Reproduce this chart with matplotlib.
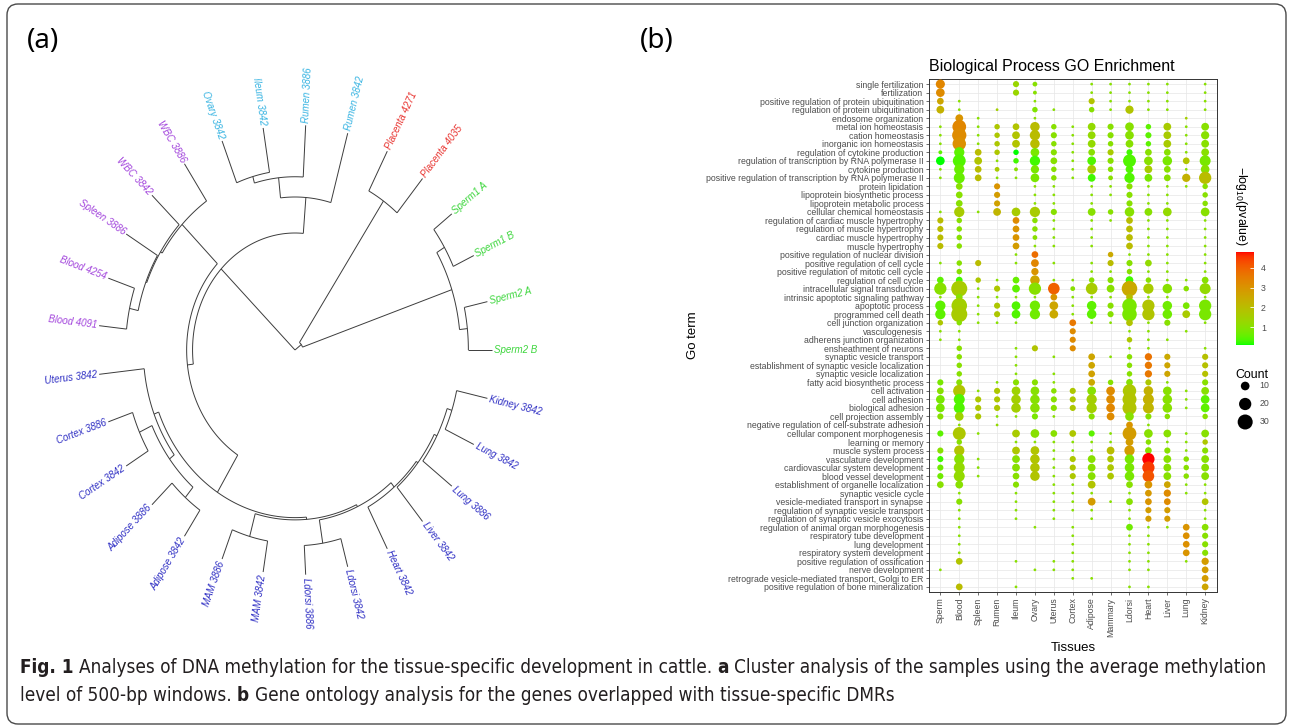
import numpy as np
import matplotlib
matplotlib.use("Agg")
import matplotlib.pyplot as plt
from matplotlib.colors import ListedColormap, Normalize
from matplotlib.collections import LineCollection
from matplotlib.patches import FancyBboxPatch
from matplotlib.transforms import Affine2D
import matplotlib.cm as cm

plt.rcParams['font.family'] = ['Liberation Sans', 'DejaVu Sans']

W, H = 1292, 728

# ---------------- panel (a): sample clustering ----------------
leaves = ["Sperm2 B", "Sperm2 A", "Sperm1 B", "Sperm1 A",
          "Placenta 4035", "Placenta 4271",
          "Rumen 3842", "Rumen 3886", "Ileum 3842", "Ovary 3842",
          "WBC 3886", "WBC 3842", "Spleen 3886", "Blood 4254", "Blood 4091",
          "Uterus 3842", "Cortex 3886", "Cortex 3842", "Adipose 3886", "Adipose 3842",
          "MAM 3886", "MAM 3842", "Ldorsi 3886", "Ldorsi 3842", "Heart 3842",
          "Liver 3842", "Lung 3886", "Lung 3842", "Kidney 3842"]
leaf_group = [0] * 4 + [1] * 2 + [2] * 4 + [3] * 5 + [4] * 14
group_colors = ["#3dd63d", "#e8322e", "#38b4e2", "#a244dc", "#3030c4"]

# (distance of node from root, children)
tree = (0.0, [
    (0.04, [
        (0.84, [(0.88, ["Sperm2 B", "Sperm2 A"]), (0.885, ["Sperm1 B", "Sperm1 A"])]),
        (0.80, ["Placenta 4035", "Placenta 4271"]),
    ]),
    (0.52, [
        (0.68, ["Rumen 3842", (0.77, ["Rumen 3886", (0.80, ["Ileum 3842", "Ovary 3842"])])]),
        (0.55, [
            (0.80, ["WBC 3886", (0.81, ["WBC 3842", (0.815, ["Spleen 3886",
                                                           (0.86, ["Blood 4254", "Blood 4091"])])])]),
            (0.745, [
                (0.77, ["Uterus 3842", (0.80, [(0.87, ["Cortex 3886", "Cortex 3842"]),
                                               (0.86, ["Adipose 3886", "Adipose 3842"])])]),
                (0.755, [(0.86, ["MAM 3886", "MAM 3842"]),
                         (0.765, [(0.87, ["Ldorsi 3886", "Ldorsi 3842"]),
                                  (0.79, ["Heart 3842",
                                          (0.80, ["Liver 3842",
                                                  (0.815, ["Lung 3886",
                                                           (0.84, ["Lung 3842", "Kidney 3842"])])])])])]),
            ]),
        ]),
    ]),
])

# ---------------- panel (b): GO enrichment ----------------
tissues = ["Sperm", "Blood", "Spleen", "Rumen", "Ileum", "Ovary", "Uterus", "Cortex",
           "Adipose", "Mammary", "Ldorsi", "Heart", "Liver", "Lung", "Kidney"]
go_terms = [
    "single fertilization", "fertilization",
    "positive regulation of protein ubiquitination", "regulation of protein ubiquitination",
    "endosome organization", "metal ion homeostasis", "cation homeostasis",
    "inorganic ion homeostasis", "regulation of cytokine production",
    "regulation of transcription by RNA polymerase II", "cytokine production",
    "positive regulation of transcription by RNA polymerase II", "protein lipidation",
    "lipoprotein biosynthetic process", "lipoprotein metabolic process",
    "cellular chemical homeostasis", "regulation of cardiac muscle hypertrophy",
    "regulation of muscle hypertrophy", "cardiac muscle hypertrophy", "muscle hypertrophy",
    "positive regulation of nuclear division", "positive regulation of cell cycle",
    "positive regulation of mitotic cell cycle", "regulation of cell cycle",
    "intracellular signal transduction", "intrinsic apoptotic signaling pathway",
    "apoptotic process", "programmed cell death", "cell junction organization",
    "vasculogenesis", "adherens junction organization", "ensheathment of neurons",
    "synaptic vesicle transport", "establishment of synaptic vesicle localization",
    "synaptic vesicle localization", "fatty acid biosynthetic process", "cell activation",
    "cell adhesion", "biological adhesion", "cell projection assembly",
    "negative regulation of cell-substrate adhesion", "cellular component morphogenesis",
    "learning or memory", "muscle system process", "vasculature development",
    "cardiovascular system development", "blood vessel development",
    "establishment of organelle localization", "synaptic vesicle cycle",
    "vesicle-mediated transport in synapse", "regulation of synaptic vesicle transport",
    "regulation of synaptic vesicle exocytosis", "regulation of animal organ morphogenesis",
    "respiratory tube development", "lung development", "respiratory system development",
    "positive regulation of ossification", "nerve development",
    "retrograde vesicle-mediated transport, Golgi to ER",
    "positive regulation of bone mineralization"]

# gene counts, columns follow `tissues` (0 = term not enriched)
counts_tbl = """
11  0  0  0  5  3  0  0  1  1  1  1  1  0  1
10  0  0  0  5  2  0  0  1  1  1  1  1  0  1
 6  1  0  0  0  1  0  0  5  1  1  1  1  0  1
 8  1  0  1  0  4  1  0  4  1  9  1  1  0  1
 0  8  1  0  0  1  0  0  0  0  0  0  0  1  0
 1 25  1  4  6 12  4  1  8  5 10  4  8  1  8
 1 27  1  4  8 14  5  1  8  5 10  5  8  1  9
 1 24  1  4  8 12  4  1  8  4  8  4  8  1  8
 2 14  6  4  4 10  5  1  6  5  5  6  6  1  8
10 22  8  1  4 14  6  1 10  5 22 10 12  6 16
 1 14  6  3  2  9  4  1 10  4  8  8  6  1 10
 1 16  6  1  1 10  4  1  8  3 14  8  6  9 20
 0  6  0  5  0  1  1  0  1  1  5  1  1  1  4
 0  6  0  5  0  1  1  0  1  1  5  1  1  0  4
 0  6  0  5  0  1  1  0  1  0  5  1  1  0  4
 1 14  1  8 10 14  5  0  8  4 12  8 10  0 10
 5  4  0  0  6  4  1  0  1  1  6  1  1  0  1
 5  4  0  0  6  4  1  0  1  0  6  1  1  0  1
 5  4  0  0  6  3  1  0  1  0  6  1  1  0  1
 5  4  0  0  6  1  1  0  1  0  6  1  1  0  1
 0  0  0  0  1  6  0  0  0  4  1  1  1  0  1
 1  4  5  0  1  8  1  0  1  5  5  6  1  0  1
 0  4  0  0  0  7  0  0  1  1  4  1  1  0  1
 6  6  4  1  6 12  1  1  4  5  8  4  1  1  6
20 34  1  5  8 20 18  3 18  8 32 14 12  4 16
 1  6  1  1  1  1  6  1  1  1  6  1  1  0  1
14 32  1  5 10 14 10  1 12  5 28 20 12  6 20
14 34  1  5 10 14 10  1 12  5 28 20 12  8 20
 4  4  1  1  1  0  0  6  1  1  6  1  5  0  1
 1  1  0  0  0  0  0  5  0  0  1  1  0  1  0
 1  1  0  0  0  0  0  5  0  0  4  1  1  0  0
 0  4  0  0  1  5  0  5  0  0  1  1  0  0  1
 0  4  0  0  1  0  1  0  6  1  4  7  5  0  5
 0  4  0  0  1  0  0  0  6  0  4  7  5  0  5
 0  4  0  0  1  0  1  0  6  0  4  7  5  0  5
 5  5  0  1  5  5  1  0  6  4  6  5  1  0  5
 6 20  1  5 10 10  4  5 10 10 24 12 10  1  8
10 16  5  5 12 12  5  5 14 10 26 16 12  1 10
10 16  5  5 12 12  5  5 14 10 26 16 12  1 10
 5 10  5  1  1  5  1  0  5  8 10  5  4  0  4
 0  1  0  1  0  0  0  0  0  0  6  1  0  0  0
 5 22  1  0  8 10  6  6  5  1 25 10  8  1  8
 0  4  0  0  1  1  1  1  1  1  8  4  1  1  4
 5 14  0  0  8 10  1  1  1  8 14  6  5  1  5
 5 14  1  0  8 12  1  5  8  6 12 20  8  4  8
 5 16  1  0  8 12  1  5  8  6 12 20  8  4  8
 5 16  1  0  6 12  1  5  8  6 12 18  8  4  8
 6  8  0  0  5  0  1  1  8  0  6  8  6  1  1
 0  1  0  0  1  0  1  1  1  0  1  6  7  1  1
 0  5  0  0  1  0  1  1  8  1  6  6  6  0  6
 0  1  0  0  1  0  1  1  1  0  1  5  5  0  1
 0  1  0  0  1  0  1  0  1  0  1  5  5  0  1
 0  1  0  0  0  1  0  1  0  0  6  1  1  6  6
 0  1  0  0  0  0  0  1  0  0  1  1  0  6  5
 0  1  0  0  0  0  0  1  0  0  1  1  0  6  5
 0  1  0  0  0  0  0  1  0  0  1  1  0  6  5
 0  6  0  0  1  0  1  1  0  0  1  1  0  1  7
 1  0  0  0  0  1  1  1  0  0  1  1  0  0  6
 0  0  0  0  0  0  0  1  1  0  0  0  0  0  6
 0  6  0  0  1  0  0  0  0  0  1  1  0  0  6
"""

# -log10(pvalue), same layout
neglogp_tbl = """
3.3 0   0   0   1.3 1.0 0   0   1.0 1.0 1.0 1.0 1.0 0   1.0
3.2 0   0   0   1.3 1.0 0   0   1.0 1.0 1.0 1.0 1.0 0   1.0
2.6 1.0 0   0   0   1.0 0   0   1.8 1.0 1.0 1.0 1.0 0   1.0
2.3 1.0 0   1.5 0   0.9 1.0 0   1.0 1.0 1.8 1.0 1.0 0   1.0
0   3.0 1.0 0   0   1.0 0   0   0   0   0   0   0   1.5 0
1.0 3.3 1.0 1.7 1.8 2.0 1.0 1.0 1.2 1.0 1.0 0.5 1.6 1.0 1.0
1.0 3.2 1.0 1.7 1.8 2.0 1.0 1.0 1.2 1.0 1.0 0.5 1.6 1.0 1.0
1.0 3.1 1.0 1.7 1.8 2.0 1.0 1.0 1.2 1.0 1.0 0.5 1.6 1.0 1.0
0.5 0.5 2.0 1.7 0.1 0.8 1.0 1.0 1.0 1.6 0.3 1.0 1.0 1.0 1.0
0.1 0.4 1.8 1.0 0.3 0.3 1.0 1.0 0.4 1.0 0.4 1.0 0.8 1.8 0.8
1.0 0.6 2.0 1.6 1.0 0.8 1.0 1.0 1.6 1.0 0.4 1.6 1.0 1.0 1.0
1.0 0.6 2.0 1.0 1.0 0.8 1.0 1.0 0.3 1.0 0.4 0.8 1.0 2.3 2.0
0   1.0 0   3.0 0   1.0 1.0 0   1.0 1.0 1.0 1.0 1.0 1.0 1.0
0   1.0 0   2.8 0   1.0 1.0 0   1.0 1.0 1.0 1.0 1.0 0   1.0
0   1.0 0   2.7 0   1.0 1.0 0   1.0 0   1.0 1.0 1.0 0   1.0
1.0 1.6 1.0 2.2 1.6 1.6 1.0 0   1.0 1.0 1.0 1.0 1.2 0   1.0
2.0 1.0 0   0   3.2 1.0 1.0 0   1.0 1.0 2.0 1.0 1.0 0   1.0
2.0 1.0 0   0   3.0 1.0 1.0 0   1.0 0   2.0 1.0 1.0 0   1.0
2.0 1.0 0   0   3.0 1.0 1.0 0   1.0 0   2.0 1.0 1.0 0   1.0
2.0 1.0 0   0   2.8 1.0 1.0 0   1.0 0   2.0 1.0 1.0 0   1.0
0   0   0   0   1.0 3.8 0   0   0   2.5 1.0 1.0 1.0 0   1.0
1.0 1.0 2.0 0   1.0 3.3 1.0 0   1.0 2.0 1.0 1.2 1.0 0   1.0
0   1.0 0   0   0   3.0 0   0   1.0 1.0 1.0 1.0 1.0 0   1.0
0.5 0.3 1.7 1.0 0.6 2.6 1.0 1.0 1.0 1.0 0.3 1.0 1.0 1.0 1.0
1.0 1.6 1.0 1.7 0.5 1.0 4.0 1.0 1.6 1.0 2.5 1.6 1.0 1.0 1.2
1.0 1.0 1.0 1.0 1.0 1.0 3.0 1.0 1.0 1.0 2.0 1.0 1.0 0   1.0
0.5 1.5 1.0 1.7 0.4 0.7 2.6 1.0 0.5 1.0 0.8 1.8 0.7 0.8 0.8
0.5 1.6 1.0 1.7 0.4 0.7 2.5 1.0 0.5 1.0 0.8 1.8 0.7 1.6 0.8
1.7 1.0 1.0 1.0 1.0 0   0   3.6 1.0 1.0 1.8 1.0 1.0 0   1.0
1.0 1.0 0   0   0   0   0   3.2 0   0   1.0 1.0 0   1.0 0
1.0 1.0 0   0   0   0   0   3.2 0   0   1.7 1.0 1.0 0   0
0   1.0 0   0   1.0 1.8 0   3.2 0   0   1.0 1.0 0   0   1.0
0   1.0 0   0   1.0 0   1.0 0   2.6 1.0 1.0 3.7 2.5 0   1.9
0   1.0 0   0   1.0 0   0   0   2.6 0   1.0 3.6 2.6 0   1.9
0   1.0 0   0   1.0 0   1.0 0   2.7 0   1.0 3.6 2.6 0   1.9
0.8 1.0 0   1.0 1.0 1.0 1.0 0   2.5 1.0 1.0 1.7 1.0 0   1.0
1.0 1.8 1.0 1.7 1.4 1.0 1.0 1.7 1.0 3.2 1.7 2.3 1.0 1.0 1.0
0.8 0.4 1.7 1.7 1.5 1.0 1.0 1.7 1.5 3.2 1.8 2.3 1.0 1.0 0.5
0.8 0.4 1.7 1.7 1.5 1.0 1.0 1.7 1.5 3.3 1.8 2.2 1.0 1.0 0.5
1.0 1.4 1.7 1.0 1.0 0.8 1.0 0   1.0 3.2 1.0 1.0 1.0 0   1.0
0   1.0 0   1.2 0   0   0   0   0   0   3.0 1.0 0   0   0
0.5 1.7 1.0 0   1.6 1.0 1.0 1.7 0.5 1.0 2.8 1.0 1.0 1.0 1.0
0   1.0 0   0   1.0 1.0 1.0 1.0 1.0 1.0 2.8 1.0 1.0 1.0 1.7
1.0 1.8 0   0   1.7 1.8 1.0 1.0 1.0 2.0 2.8 1.0 1.0 1.0 1.0
0.3 1.0 1.0 0   1.0 1.8 1.0 1.7 1.0 1.7 0.8 4.8 1.0 1.0 1.0
0.7 1.2 1.0 0   1.0 1.8 1.0 1.7 1.0 1.7 0.8 4.5 1.0 1.0 1.0
0.7 1.2 1.0 0   1.0 1.8 1.0 1.7 1.0 1.7 0.8 4.2 1.0 1.0 1.0
1.0 1.0 0   0   1.0 0   1.0 1.0 1.8 0   1.0 3.0 2.6 1.0 1.0
0   1.0 0   0   1.0 0   1.0 1.0 1.0 0   1.0 2.9 3.2 1.0 1.0
0   1.0 0   0   1.0 0   1.0 1.0 2.8 1.0 1.0 3.0 3.2 0   1.8
0   1.0 0   0   1.0 0   1.0 1.0 1.0 0   1.0 2.8 2.8 0   1.0
0   1.0 0   0   1.0 0   1.0 0   1.0 0   1.0 2.8 2.8 0   1.0
0   1.0 0   0   0   1.0 0   1.0 0   0   0.7 1.0 1.0 3.0 1.0
0   1.0 0   0   0   0   0   1.0 0   0   1.0 1.0 0   3.1 1.0
0   1.0 0   0   0   0   0   1.0 0   0   1.0 1.0 0   3.1 1.0
0   1.0 0   0   0   0   0   1.0 0   0   1.0 1.0 0   3.0 1.0
0   1.8 0   0   1.0 0   1.0 1.0 0   0   1.0 1.0 0   1.0 2.8
1.0 0   0   0   0   1.0 1.0 1.0 0   0   1.0 1.0 0   0   2.8
0   0   0   0   0   0   0   1.0 1.0 0   0   0   0   0   2.8
0   2.0 0   0   1.0 0   0   0   0   0   1.0 1.0 0   0   2.6
"""

counts = np.array([r.split() for r in counts_tbl.strip().splitlines()], dtype=float)
neglogp = np.array([r.split() for r in neglogp_tbl.strip().splitlines()], dtype=float)

size_keys = [10, 20, 30]

caption_1 = [("Fig. 1", "bold"),
             ("Analyses of DNA methylation for the tissue-specific development in cattle.", "normal"),
             ("a", "bold"),
             ("Cluster analysis of the samples using the average methylation", "normal")]
caption_2 = [("level of 500-bp windows.", "normal"),
             ("b", "bold"),
             ("Gene ontology analysis for the genes overlapped with tissue-specific DMRs", "normal")]


# green -> red gradient interpolated in CIELAB (like ggplot's scale_colour_gradient)
M = np.array([[0.4124, 0.3576, 0.1805], [0.2126, 0.7152, 0.0722], [0.0193, 0.1192, 0.9505]])
WHITE = np.array([0.95047, 1.0, 1.08883])

def to_lab(rgb):
    c = np.asarray(rgb, float)
    lin = np.where(c <= 0.04045, c / 12.92, ((c + 0.055) / 1.055) ** 2.4)
    xyz = M @ lin / WHITE
    f = np.where(xyz > 0.008856, np.cbrt(xyz), 7.787 * xyz + 16 / 116)
    return np.array([116 * f[1] - 16, 500 * (f[0] - f[1]), 200 * (f[1] - f[2])])

def from_lab(lab):
    fy = (lab[0] + 16) / 116
    f = np.array([fy + lab[1] / 500, fy, fy - lab[2] / 200])
    xyz = np.where(f ** 3 > 0.008856, f ** 3, (f - 16 / 116) / 7.787) * WHITE
    lin = np.clip(np.linalg.solve(M, xyz), 0, None)
    c = np.where(lin <= 0.0031308, 12.92 * lin, 1.055 * lin ** (1 / 2.4) - 0.055)
    return np.clip(c, 0, 1)

lo, hi = to_lab([0, 1, 0]), to_lab([1, 0, 0])
cmap = ListedColormap([from_lab(lo + t * (hi - lo)) for t in np.linspace(0, 1, 256)])
norm = Normalize(vmin=neglogp[counts > 0].min(), vmax=neglogp.max())

fig = plt.figure(figsize=(W / 100, H / 100), dpi=100)
px = Affine2D().scale(1 / W, 1 / H) + fig.transFigure

# outer frame
fig.patches.append(FancyBboxPatch((7, 4), 1279, 720, boxstyle="round,pad=0,rounding_size=11",
                                  transform=px, facecolor="none", edgecolor="#4a4a4a", lw=1.0))

# ---------- (a) fan dendrogram ----------
cx, cy, rx, ry, lim = 295, 350, 197, 225, 1.5
ax_t = fig.add_axes([(cx - lim * rx) / W, (H - cy - lim * ry) / H, 2 * lim * rx / W, 2 * lim * ry / H])
ax_t.set_xlim(-lim, lim)
ax_t.set_ylim(-lim, lim)
ax_t.axis("off")

n = len(leaves)
leaf_theta = {name: 2 * np.pi * i / n for i, name in enumerate(leaves)}
segs = []

def layout(node):
    if isinstance(node, str):
        return leaf_theta[node], 1.0
    r, kids = node
    placed = [layout(k) for k in kids]
    for th, rk in placed:
        segs.append([(r * np.cos(th), r * np.sin(th)), (rk * np.cos(th), rk * np.sin(th))])
    t = np.linspace(placed[0][0], placed[-1][0], 80)
    segs.append(np.column_stack([r * np.cos(t), r * np.sin(t)]))
    return (placed[0][0] + placed[-1][0]) / 2, r

layout(tree)
ax_t.add_collection(LineCollection(segs, colors="#3c3c3c", linewidths=0.7))

for name, g in zip(leaves, leaf_group):
    th = leaf_theta[name]
    ang = np.degrees(np.arctan2(ry * np.sin(th), rx * np.cos(th)))
    if np.cos(th) < 0:
        rot, ha = (ang - 180 if ang > 0 else ang + 180), "right"
    else:
        rot, ha = ang, "left"
    ax_t.text(1.012 * np.cos(th), 1.012 * np.sin(th), name, rotation=rot, rotation_mode="anchor",
              ha=ha, va="center", fontsize=7, style="italic", color=group_colors[g])

fig.text(27 / W, 1 - 41 / H, "(a)", fontsize=20, va="center", family="Noto Sans")
fig.text(640 / W, 1 - 41 / H, "(b)", fontsize=20, va="center", family="Noto Sans")

# ---------- (b) dot plot ----------
ax = fig.add_axes([929 / W, (H - 592) / H, 287.5 / W, 513 / H])
rows, cols = np.nonzero(counts)
ax.scatter(cols, rows, s=3.9 * counts[rows, cols], c=neglogp[rows, cols], cmap=cmap, norm=norm,
           linewidths=0, zorder=3)
ax.set_xlim(-0.6, len(tissues) - 0.4)
ax.set_ylim(len(go_terms) - 0.4, -0.6)
ax.set_xticks(range(len(tissues)))
ax.set_xticklabels(tissues, rotation=90)
ax.set_yticks(range(len(go_terms)))
ax.set_yticklabels(go_terms)
ax.grid(True, color="#e6e6e6", lw=0.5)
ax.set_axisbelow(True)
ax.tick_params(length=2.5, width=0.5, color="#333333", labelcolor="#4d4d4d", labelsize=6.3, pad=1.5)
for s in ax.spines.values():
    s.set_color("#333333")
    s.set_linewidth(0.7)

fig.text(929 / W, 1 - 67 / H, "Biological Process GO Enrichment", fontsize=11.5, va="center")
fig.text(693 / W, 1 - 335 / H, "Go term", fontsize=9.5, rotation=90, ha="center", va="center")
fig.text(1073 / W, 1 - 648 / H, "Tissues", fontsize=9.5, ha="center", va="center")

# colour bar
cax = fig.add_axes([1236 / W, (H - 345) / H, 18 / W, 93 / H])
cb = fig.colorbar(cm.ScalarMappable(norm=norm, cmap=cmap), cax=cax, ticks=[1, 2, 3, 4])
cb.outline.set_visible(False)
cax.tick_params(length=3, width=0.6, color="white", direction="in", labelcolor="#4d4d4d",
                labelsize=6.3, pad=5)
fig.text(1241 / W, 1 - 206 / H, r"$\mathregular{-log_{10}(pvalue)}$", fontsize=8.9, rotation=-90,
         ha="center", va="center")

# size legend
fig.text(1235 / W, 1 - 375 / H, "Count", fontsize=8.9, va="center")
kax = fig.add_axes([1236 / W, (H - 431) / H, 54 / W, 54 / H])
kax.set_xlim(0, 1)
kax.set_ylim(len(size_keys) - 0.5, -0.5)
kax.axis("off")
kax.scatter([0.17] * len(size_keys), range(len(size_keys)), s=[3.9 * k for k in size_keys],
            color="black", linewidths=0)
for i, k in enumerate(size_keys):
    kax.text(0.43, i, str(k), fontsize=6.3, color="#4d4d4d", va="center")

# ---------- caption (condensed face) ----------
cap_font = ["DejaVu Sans"]
renderer = fig.canvas.get_renderer()

def width(s, weight, size):
    t = fig.text(0, 0, s, fontsize=size, weight=weight, family=cap_font, stretch="condensed")
    w = t.get_window_extent(renderer).width
    t.remove()
    return w

def line_width(pieces, size):
    gap = width("n n", "normal", size) - width("nn", "normal", size)
    return sum(width(s, w, size) for s, w in pieces) + gap * (len(pieces) - 1)

cap_size = 12 * 1245 / line_width(caption_1, 12)

def draw_line(pieces, y, size):
    gap = width("n n", "normal", size) - width("nn", "normal", size)
    x = 20
    for s, w in pieces:
        fig.text(x / W, 1 - y / H, s, fontsize=size, weight=w, family=cap_font, stretch="condensed",
                 va="baseline", color="#231f20")
        x += width(s, w, size) + gap

draw_line(caption_1, 673, cap_size)
draw_line(caption_2, 701, cap_size)

fig.savefig("out.png", dpi=100)
